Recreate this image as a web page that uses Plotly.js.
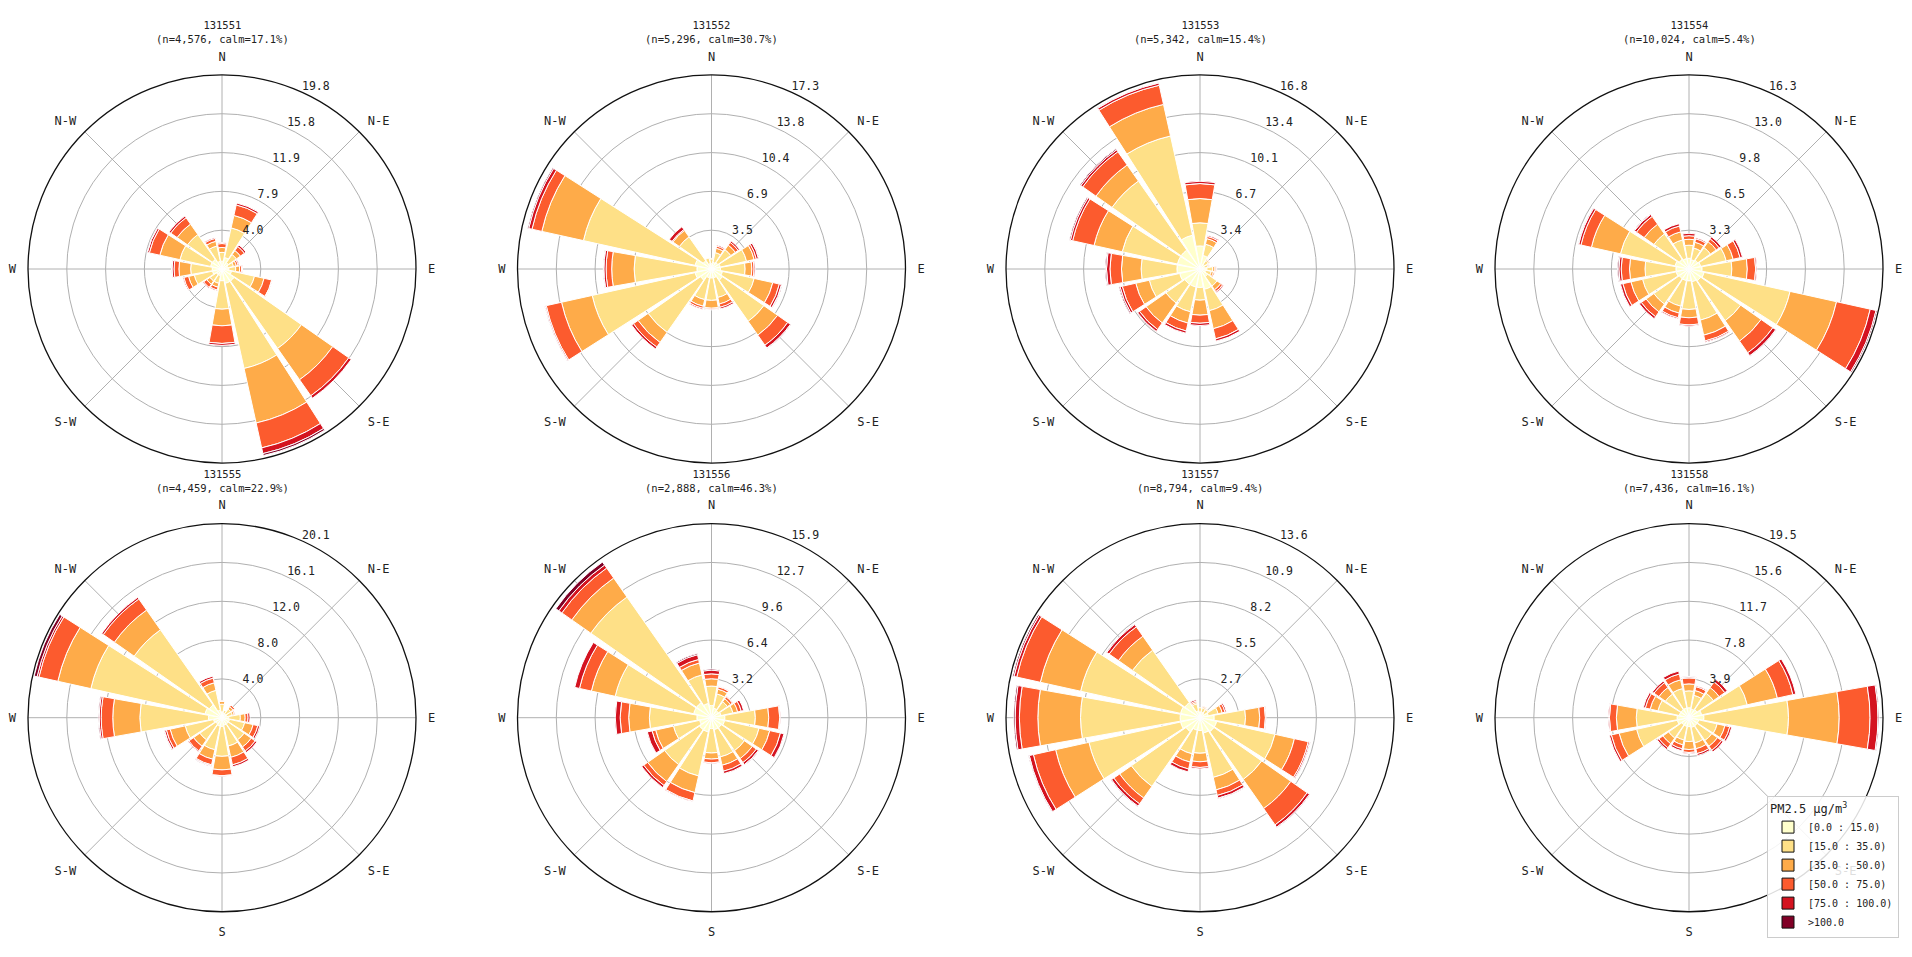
<!DOCTYPE html>
<html>
<head>
<meta charset="utf-8">
<script src="https://cdn.plot.ly/plotly-3.0.1.min.js"></script>
<style>html,body{margin:0;padding:0;background:#fff;}#chart{width:1912px;height:957px;}</style>
</head>
<body>
<div id="chart"></div>
<script>
// ---------- data ----------
const directions = [0, 22.5, 45, 67.5, 90, 112.5, 135, 157.5, 180, 202.5, 225, 247.5, 270, 292.5, 315, 337.5];
const compassVals = [0, 45, 90, 135, 180, 225, 270, 315];
const compassText = ['N', 'N-E', 'E', 'S-E', 'S', 'S-W', 'W', 'N-W'];
const binLabels = ['[0.0 : 15.0)', '[15.0 : 35.0)', '[35.0 : 50.0)', '[50.0 : 75.0)', '[75.0 : 100.0)', '>100.0'];
const binColors = ['#ffffcc', '#fee087', '#feab49', '#fc5b2e', '#d41320', '#800026'];

const stations = ['131551', '131552', '131553', '131554', '131555', '131556', '131557', '131558'];
const counts = ['4,576', '5,296', '5,342', '10,024', '4,459', '2,888', '8,794', '7,436'];
const calms = ['17.1%', '30.7%', '15.4%', '5.4%', '22.9%', '46.3%', '9.4%', '16.1%'];
const rmax = [19.8, 17.3, 16.8, 16.3, 20.07, 15.925, 13.64, 19.5];

// frequency (%) per direction (rows N..NNW) and PM2.5 bin (columns)
const s131551 = [
  [0.8,0.9,0.5,0.4,0.1,0],[1.2,3.1,1.3,1.1,0.2,0],[0.8,1.0,0.5,0.5,0.2,0],[0.6,0.6,0.3,0.2,0.1,0],
  [0.7,0.7,0.4,0.2,0.1,0],[1.0,2.4,1.0,0.8,0.05,0],[1.5,8.4,3.9,2.0,0.3,0],[1.5,8.9,5.7,2.6,0.6,0.2],
  [1.2,2.9,1.7,1.8,0.2,0],[0.7,0.8,0.4,0.3,0.1,0],[0.7,0.8,0.4,0.4,0.1,0],[1.0,1.9,0.6,0.5,0.1,0],
  [1.0,2.2,1.2,0.5,0.2,0.05],[1.2,3.2,2.1,1.1,0.2,0.05],[1.2,3.1,1.3,0.8,0.2,0],[0.8,1.6,0.5,0.3,0.1,0]
];
const s131552 = [
  [0.5,0.4,0.05,0,0,0],[0.6,0.9,0.4,0.2,0.1,0],[0.7,1.4,0.5,0.3,0.15,0],[0.8,2.4,0.7,0.2,0.2,0.05],
  [0.8,2.2,0.6,0.2,0.1,0],[1.0,2.9,1.7,0.6,0.2,0.05],[1.2,4.5,1.5,1.1,0.3,0.05],[0.8,1.8,0.6,0.3,0.15,0],
  [0.8,2.0,0.7,0.1,0.05,0],[0.8,2.0,0.6,0.2,0.1,0],[1.2,5.7,1.1,0.5,0.2,0],[1.5,9.4,2.8,1.4,0.1,0.05],
  [1.3,5.6,2.0,0.5,0.2,0.05],[1.5,10.2,3.8,0.9,0.3,0.1],[0.9,2.6,0.7,0.1,0.3,0],[0.5,0.5,0,0,0,0]
];
const s131553 = [
  [2.0,2.0,2.1,1.3,0.2,0],[1.2,1.0,0.5,0.2,0.1,0],[0.5,0.4,0.1,0.05,0,0],[0.4,0.3,0.1,0.05,0,0],
  [0.6,0.5,0.2,0.1,0.05,0],[0.5,0.5,0.2,0.1,0,0],[0.8,1.0,0.4,0.2,0.1,0],[1.8,1.9,1.6,0.9,0.2,0],
  [1.6,1.1,1.3,0.7,0.2,0],[1.6,2.2,1.0,0.7,0.2,0],[1.6,2.0,2.1,0.7,0.2,0],[1.8,2.7,1.2,1.2,0.2,0.1],
  [2.0,3.1,1.7,1.0,0.3,0.1],[2.0,4.9,2.5,1.9,0.2,0.1],[2.0,7.3,1.7,1.4,0.2,0.1],[3.0,8.8,2.8,1.7,0.2,0.05]
];
const s131554 = [
  [0.9,1.1,0.5,0.3,0.2,0],[0.8,1.0,0.5,0.3,0.1,0],[0.9,1.3,0.6,0.3,0.2,0],[1.0,2.2,0.6,0.6,0.2,0],
  [1.1,2.5,1.3,0.7,0.1,0],[1.3,7.4,4.0,2.9,0.5,0.1],[1.2,4.1,2.1,1.2,0.3,0.05],[1.1,3.3,1.3,0.5,0.1,0],
  [1.0,2.4,0.7,0.6,0.1,0],[1.0,2.2,0.6,0.4,0.1,0],[1.0,2.6,0.8,0.5,0.2,0],[1.1,2.9,1.0,0.7,0.2,0],
  [1.1,2.6,1.3,0.7,0.2,0.1],[1.2,4.7,2.5,0.9,0.2,0.05],[1.0,2.6,1.0,0.8,0.2,0.05],[0.9,1.6,0.7,0.5,0.2,0]
];
const s131555 = [
  [0.6,0.8,0.3,0.05,0,0],[0.5,0.3,0,0,0,0],[0.5,0.6,0.3,0.2,0,0],[0.5,0.6,0.2,0.1,0,0],
  [0.7,1.2,0.5,0.3,0.2,0],[0.8,1.6,0.9,0.5,0.2,0],[0.8,2.0,0.9,0.5,0.2,0],[0.8,2.2,1.2,0.8,0.2,0],
  [0.9,3.1,1.4,0.6,0.05,0],[0.9,2.5,1.0,0.6,0.1,0.05],[0.8,2.0,0.8,0.6,0.1,0],[0.9,3.0,1.6,0.4,0.2,0.05],
  [1.4,7.1,2.8,1.2,0.2,0.1],[1.8,12.1,3.5,2.0,0.2,0.3],[1.6,9.5,2.5,1.4,0.2,0],[0.8,2.1,0.8,0.5,0.2,0]
];
const s131556 = [
  [1.0,1.6,0.6,0.4,0.3,0.1],[0.8,1.2,0.4,0.2,0.05,0],[0.7,0.9,0.3,0.2,0.05,0],[0.8,1.0,0.4,0.3,0.2,0],
  [1.1,2.5,1.1,0.9,0.05,0],[1.1,2.9,0.9,0.9,0.3,0],[1.0,2.3,0.8,0.4,0.2,0.05],[1.0,2.3,0.7,0.5,0.2,0],
  [0.9,2.0,0.5,0.3,0.05,0],[1.2,3.7,1.4,0.7,0.05,0],[1.2,3.5,1.7,0.4,0.2,0],[1.0,2.2,1.5,0.3,0.4,0],
  [1.2,3.9,1.7,0.7,0.4,0],[1.5,6.6,2.0,1.0,0.4,0],[1.5,10.6,1.9,1.0,0.3,0.3],[1.2,2.4,1.0,0.3,0.4,0.1]
];
const s131557 = [
  [0.4,0.3,0,0,0,0],[0.4,0.3,0.1,0.05,0,0],[0.4,0.3,0.05,0,0,0],[0.6,0.7,0.3,0.2,0.1,0],
  [1.0,2.2,1.0,0.4,0.05,0],[1.2,4.2,1.4,1.0,0.1,0.05],[1.2,4.1,2.5,1.4,0.2,0.05],[1.1,3.2,0.9,0.4,0.2,0.05],
  [0.9,1.6,0.6,0.4,0.1,0],[0.9,1.7,0.6,0.5,0.2,0],[1.2,4.7,1.0,0.5,0.2,0.05],[1.4,6.6,2.4,1.6,0.3,0.05],
  [1.4,7.0,3.0,1.3,0.3,0.1],[1.4,7.2,2.9,1.7,0.2,0.1],[1.3,4.5,1.2,0.8,0.2,0.05],[0.5,0.5,0.1,0.1,0.1,0]
];
const s131558 = [
  [1.0,1.7,0.7,0.6,0.1,0.05],[0.9,1.4,0.5,0.4,0.1,0],[1.0,2.0,0.7,0.7,0.3,0],[1.3,4.7,3.1,1.6,0.3,0],
  [1.5,8.5,5.1,3.1,0.8,0.1],[1.0,1.9,0.8,0.5,0.2,0],[1.0,1.8,0.7,0.5,0.2,0],[1.0,1.6,0.6,0.5,0.2,0],
  [0.9,1.5,0.8,0.3,0.1,0],[0.9,1.4,0.5,0.4,0.2,0],[0.9,1.6,0.7,0.5,0.2,0],[1.2,4.2,1.8,0.8,0.2,0],
  [1.2,4.1,2.0,0.7,0.1,0],[1.0,2.2,0.8,0.5,0.2,0],[1.0,1.9,0.8,0.6,0.2,0],[1.0,2.0,0.9,0.6,0.3,0]
];
const stationData = [s131551, s131552, s131553, s131554, s131555, s131556, s131557, s131558];

// ---------- layout geometry ----------
const W = 1912, H = 957, R = 194;
const colCenters = [222, 711.5, 1200, 1689];
const rowCenters = [269, 717.7];
const FONT = 'DejaVu Sans Mono, monospace';

const traces = [];
const layout = {
  width: W, height: H,
  margin: {l: 0, r: 0, t: 0, b: 0},
  paper_bgcolor: 'white',
  font: {family: FONT, color: '#222'},
  showlegend: true,
  annotations: [],
  legend: {
    x: 1767 / W, y: 1 - 796 / H, xanchor: 'left', yanchor: 'top',
    bgcolor: 'rgba(255,255,255,0.85)', bordercolor: '#cccccc', borderwidth: 1,
    font: {family: FONT, size: 10, color: '#222'},
    title: {text: 'PM2.5 μg/m<sup>3</sup>', font: {family: FONT, size: 12, color: '#222'}},
    tracegroupgap: 0, itemwidth: 30
  }
};

stations.forEach((st, i) => {
  const row = Math.floor(i / 4), col = i % 4;
  const cx = colCenters[col], cy = rowCenters[row];
  const key = 'polar' + (i === 0 ? '' : (i + 1));
  const data = stationData[i];
  binLabels.forEach((lab, b) => {
    traces.push({
      type: 'barpolar', subplot: key,
      theta: directions, r: data.map(d => d[b]), width: 20,
      name: lab, showlegend: false, hoverinfo: 'skip',
      marker: {color: binColors[b], line: {color: 'white', width: 1}}
    });
  });
  const tv = [1, 2, 3, 4, 5].map(k => rmax[i] * k / 5);
  const angText = compassText.map(t => (row === 0 && t === 'S') ? '' : t);
  layout[key] = {
    domain: {x: [(cx - R) / W, (cx + R) / W], y: [1 - (cy + R) / H, 1 - (cy - R) / H]},
    bgcolor: 'white', barmode: 'stack',
    angularaxis: {
      direction: 'clockwise', rotation: 90, tickmode: 'array',
      tickvals: compassVals, ticktext: angText,
      ticks: 'outside', ticklen: 9, tickcolor: 'rgba(0,0,0,0)',
      showgrid: true, gridcolor: '#b0b0b0', gridwidth: 1,
      showline: true, linecolor: '#111', linewidth: 1.3,
      tickfont: {family: FONT, size: 12, color: '#222'}, layer: 'above traces'
    },
    radialaxis: {
      range: [0, rmax[i]], tickmode: 'array', tickvals: tv,
      ticktext: tv.map(v => v.toFixed(1) + '<br>&nbsp;'), angle: 67.5, tickangle: 67.5,
      showline: false, ticks: '', gridcolor: '#b0b0b0', gridwidth: 1,
      tickfont: {family: FONT, size: 11.5, color: '#222'}, layer: 'above traces'
    }
  };
  layout.annotations.push({
    xref: 'paper', yref: 'paper', x: cx / W, y: 1 - (cy - 237) / H,
    xanchor: 'center', yanchor: 'middle', showarrow: false,
    text: st + '<br>(n=' + counts[i] + ', calm=' + calms[i] + ')',
    font: {family: FONT, size: 10.5, color: '#222'}
  });
});

// legend-only entries (hidden subplot under the legend box)
layout.polar9 = {
  domain: {x: [1800 / W, 1840 / W], y: [1 - 880 / H, 1 - 840 / H]},
  bgcolor: 'rgba(0,0,0,0)',
  angularaxis: {visible: false, showgrid: false, showline: false},
  radialaxis: {visible: false, showgrid: false, showline: false, range: [0, 1]}
};
binLabels.forEach((lab, b) => {
  traces.push({
    type: 'barpolar', subplot: 'polar9', theta: [0], r: [0], name: lab,
    showlegend: true, hoverinfo: 'skip',
    marker: {color: binColors[b], line: {color: '#111', width: 1}}
  });
});

Plotly.newPlot('chart', traces, layout, {staticPlot: true, displayModeBar: false});
</script>
</body>
</html>
